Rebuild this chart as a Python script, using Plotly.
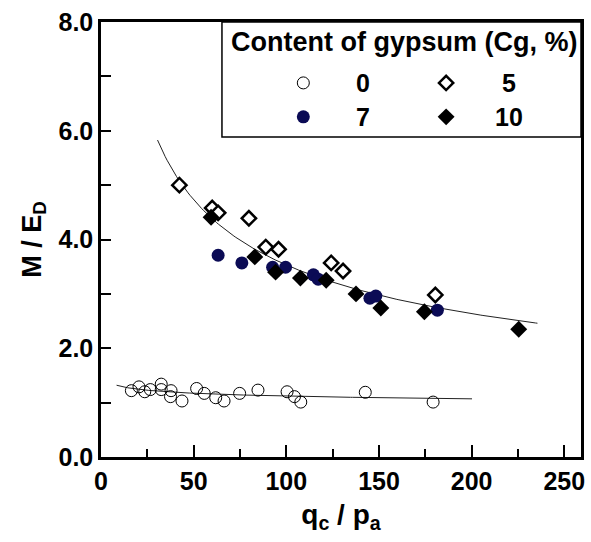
import numpy as np
import plotly.graph_objects as go

# ---- data ----
q0 = [16.4, 20.5, 23.6, 26.6, 32.5, 32.5, 37.8, 37.5, 43.7, 51.6, 55.7, 61.9, 66.4,
      74.8, 84.7, 100.4, 104.4, 107.8, 142.6, 179.2]
m0 = [1.22, 1.29, 1.20, 1.24, 1.34, 1.24, 1.22, 1.11, 1.03, 1.26, 1.17, 1.09, 1.03,
      1.17, 1.23, 1.20, 1.11, 1.01, 1.19, 1.01]

q5 = [42.3, 60.0, 63.2, 79.8, 88.9, 95.8, 124.2, 130.6, 180.4]
m5 = [5.00, 4.58, 4.49, 4.39, 3.86, 3.82, 3.57, 3.42, 2.98]

q7 = [63.2, 76.0, 92.6, 99.6, 114.6, 117.2, 145.1, 148.3, 181.5]
m7 = [3.71, 3.57, 3.49, 3.49, 3.35, 3.27, 2.92, 2.96, 2.70]

q10 = [59.4, 83.0, 94.2, 107.6, 121.5, 137.6, 151.0, 174.5, 225.4]
m10 = [4.41, 3.68, 3.40, 3.29, 3.25, 3.00, 2.74, 2.67, 2.35]

# power-law trend lines  M/ED = a * (qc/pa)^b
fit_hi = dict(a=24.66, b=-0.422, qmin=30.5, qmax=235.5)
fit_lo = dict(a=1.52, b=-0.0663, qmin=8.4, qmax=200.2)

x_ticks = [0, 50, 100, 150, 200, 250]
y_ticks = [0, 2, 4, 6, 8]

legend_title = "Content of gypsum (Cg, %)"
legend_labels = ["0", "5", "7", "10"]

NAVY = "#0b0b55"
FONT = "Liberation Sans, Arial, sans-serif"

fig = go.Figure()

for f in (fit_hi, fit_lo):
    qq = np.linspace(f["qmin"], f["qmax"], 200)
    fig.add_trace(go.Scatter(x=qq, y=f["a"] * qq ** f["b"], mode="lines",
                             line=dict(color="#222222", width=1), showlegend=False,
                             hoverinfo="skip"))

sty0 = dict(symbol="circle", size=12, color="rgba(255,255,255,0)",
            line=dict(color="black", width=1))
sty5 = dict(symbol="diamond", size=11, color="white", line=dict(color="black", width=2.5))
sty7 = dict(symbol="circle", size=13, color=NAVY, line=dict(color=NAVY, width=0))
sty10 = dict(symbol="diamond", size=13, color="black", line=dict(color="black", width=0))

fig.add_trace(go.Scatter(x=q0, y=m0, mode="markers", marker=sty0, showlegend=False))
fig.add_trace(go.Scatter(x=q5, y=m5, mode="markers", marker=sty5, showlegend=False))
fig.add_trace(go.Scatter(x=q7, y=m7, mode="markers", marker=sty7, showlegend=False))
fig.add_trace(go.Scatter(x=q10, y=m10, mode="markers", marker=sty10, showlegend=False))

# ---- manual legend (paper-like overlay axes) ----
lx = [0.4215, 0.719, 0.4215, 0.719]
ly = [0.86, 0.86, 0.782, 0.782]
tx = [0.545, 0.849, 0.545, 0.849]
for i, s in enumerate([sty0, sty5, sty7, sty10]):
    fig.add_trace(go.Scatter(x=[lx[i]], y=[ly[i]], mode="markers", marker=s,
                             xaxis="x2", yaxis="y2", showlegend=False, hoverinfo="skip"))
    fig.add_annotation(x=tx[i], y=ly[i], xref="paper", yref="paper", text=f"<b>{legend_labels[i]}</b>",
                       showarrow=False, font=dict(family=FONT, size=25, color="black"),
                       xanchor="center", yanchor="middle")

fig.add_shape(type="rect", xref="paper", yref="paper", x0=0.252, x1=1.0, y0=0.7356, y1=1.0,
              line=dict(color="black", width=1.5), fillcolor="rgba(0,0,0,0)")
fig.add_annotation(x=0.632, y=0.953, xref="paper", yref="paper", text=f"<b>{legend_title}</b>",
                   showarrow=False, font=dict(family=FONT, size=27, color="black"),
                   xanchor="center", yanchor="middle")

axis_common = dict(showline=True, linecolor="black", linewidth=2.5, mirror=True,
                   ticks="inside", tickcolor="black", tickwidth=2, showgrid=False, zeroline=False,
                   tickfont=dict(family=FONT, size=25, color="black"))

fig.update_layout(
    width=591, height=542,
    margin=dict(l=101, r=6, t=22, b=85),
    paper_bgcolor="white", plot_bgcolor="white",
    font=dict(family=FONT, color="black"),
    xaxis=dict(range=[0, 259], tickvals=x_ticks, ticktext=[f"<b>{v}</b>" for v in x_ticks],
               ticklen=12, minor=dict(dtick=25, tick0=0, ticks="inside", ticklen=8,
                                      tickcolor="black", tickwidth=2),
               title=dict(text="<b>q<sub>c</sub> / p<sub>a</sub></b>",
                          font=dict(family=FONT, size=28), standoff=11),
               **axis_common),
    yaxis=dict(range=[0, 8], tickvals=y_ticks, ticktext=[f"<b>{v:.1f}</b>" for v in y_ticks],
               ticklen=10, minor=dict(dtick=1, tick0=0, ticks="inside", ticklen=10,
                                      tickcolor="black", tickwidth=2),
               title=dict(text="<b>M / E<sub>D</sub></b>",
                          font=dict(family=FONT, size=27), standoff=10),
               **axis_common),
    xaxis2=dict(range=[0, 1], overlaying="x", visible=False, domain=[0, 1]),
    yaxis2=dict(range=[0, 1], overlaying="y", visible=False, domain=[0, 1]),
)

fig.write_html("out.html")
